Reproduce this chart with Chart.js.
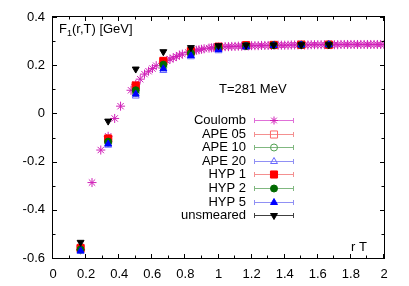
<!DOCTYPE html>
<html>
<head>
<meta charset="utf-8">
<script src="https://cdn.jsdelivr.net/npm/chart.js@4"></script>
<style>
  html, body { margin: 0; padding: 0; background: #fff; }
  canvas { display: block; }
</style>
</head>
<body>
<canvas id="myChart" width="409" height="286"></canvas>
<script>
// lattice separations rT
const rLat = [0.1667, 0.3333, 0.5, 0.6667, 0.8333, 1.0, 1.1667, 1.3333, 1.5, 1.6667]

// F1(r,T) in GeV for each smearing
const ape05 = [-0.562, -0.110, 0.110, 0.214, 0.256, 0.275, 0.282, 0.284, 0.285, 0.285]
const ape10 = [-0.568, -0.122, 0.085, 0.192, 0.245, 0.269, 0.279, 0.283, 0.284, 0.285]
const ape20 = [-0.573, -0.132, 0.072, 0.178, 0.235, 0.260, 0.274, 0.281, 0.283, 0.284]
const hyp1 = [-0.558, -0.104, 0.116, 0.218, 0.259, 0.277, 0.283, 0.284, 0.285, 0.285]
const hyp2 = [-0.565, -0.117, 0.096, 0.202, 0.250, 0.272, 0.280, 0.283, 0.284, 0.285]
const hyp5 = [-0.570, -0.127, 0.080, 0.185, 0.240, 0.265, 0.277, 0.282, 0.284, 0.285]
const unsmeared = [-0.535, -0.032, 0.184, 0.256, 0.273, 0.281, 0.283, 0.284, 0.285, 0.285]

// Coulomb gauge, all separations
const coulombR = [0.1667, 0.2357, 0.2887, 0.3333, 0.3727, 0.4082, 0.4714, 0.5, 0.527, 0.5528,
  0.5774, 0.6009, 0.6236, 0.6667, 0.6872, 0.7071, 0.7265, 0.7454, 0.7638, 0.7817,
  0.8165, 0.8333, 0.8498, 0.866, 0.882, 0.8975, 0.9129, 0.9428, 0.9574, 0.9718,
  0.986, 1.0, 1.02, 1.04, 1.06, 1.08, 1.10, 1.12, 1.14, 1.16,
  1.18, 1.20, 1.22, 1.24, 1.26, 1.28, 1.30, 1.32, 1.34, 1.36,
  1.38, 1.40, 1.42, 1.44, 1.46, 1.48, 1.50, 1.52, 1.54, 1.56,
  1.58, 1.60, 1.62, 1.64, 1.66, 1.68, 1.70, 1.72, 1.74, 1.76,
  1.78, 1.80, 1.82, 1.84, 1.86, 1.88, 1.90, 1.92, 1.94, 1.96,
  1.98, 2.00]
const coulombF = [-0.565, -0.287, -0.152, -0.095, -0.021, 0.030, 0.096, 0.120, 0.142, 0.163,
  0.175, 0.186, 0.198, 0.213, 0.219, 0.225, 0.230, 0.236, 0.242, 0.246,
  0.253, 0.256, 0.259, 0.262, 0.264, 0.266, 0.268, 0.271, 0.272, 0.273,
  0.274, 0.275, 0.276, 0.277, 0.277, 0.278, 0.278, 0.279, 0.279, 0.280,
  0.280, 0.281, 0.281, 0.281, 0.282, 0.282, 0.282, 0.282, 0.283, 0.283,
  0.283, 0.283, 0.283, 0.284, 0.284, 0.284, 0.284, 0.284, 0.284, 0.285,
  0.285, 0.285, 0.285, 0.285, 0.285, 0.285, 0.285, 0.285, 0.286, 0.286,
  0.286, 0.286, 0.286, 0.286, 0.286, 0.286, 0.286, 0.286, 0.286, 0.286,
  0.286, 0.286]

const xTicks = [0, 0.2, 0.4, 0.6, 0.8, 1, 1.2, 1.4, 1.6, 1.8, 2]
const yTicks = [-0.6, -0.4, -0.2, 0, 0.2, 0.4]

const FONT = '"Liberation Sans", Arial, Helvetica, sans-serif'

// legend order as in the plot key
const series = [
  { label: 'Coulomb', r: coulombR, f: coulombF, color: '#d020b8', line: '#e070d8', style: 'star', radius: 4.5, fill: false },
  { label: 'APE 05', r: rLat, f: ape05, color: '#ff6868', line: '#f49090', style: 'rect', radius: 5, fill: false },
  { label: 'APE 10', r: rLat, f: ape10, color: '#50a050', line: '#80b880', style: 'circle', radius: 3.5, fill: false },
  { label: 'APE 20', r: rLat, f: ape20, color: '#6868ff', line: '#9090f4', style: 'triangle', radius: 4, fill: false },
  { label: 'HYP 1', r: rLat, f: hyp1, color: '#ff0000', line: '#f49090', style: 'rect', radius: 5, fill: true },
  { label: 'HYP 2', r: rLat, f: hyp2, color: '#006a00', line: '#80b880', style: 'circle', radius: 3.5, fill: true },
  { label: 'HYP 5', r: rLat, f: hyp5, color: '#0000ff', line: '#9090f4', style: 'triangle', radius: 4, fill: true },
  { label: 'unsmeared', r: rLat, f: unsmeared, color: '#000000', line: '#404040', style: 'triangle', radius: 4, fill: true, rot: 180 }
]

// later key entries sit on top, so hand them over reversed
const datasets = series.slice().reverse().map(s => ({
  label: s.label,
  data: s.r.map((r, i) => ({ x: r, y: s.f[i] })),
  pointStyle: s.style,
  pointRadius: s.radius,
  pointRotation: s.rot || 0,
  borderColor: s.color,
  backgroundColor: s.fill ? s.color : 'rgba(0,0,0,0)',
  borderWidth: 1,
  showLine: false
}))

const frame = {
  id: 'frame',
  afterDatasetsDraw(chart) {
    const { ctx, chartArea: a, scales: { x, y } } = chart
    ctx.save()
    ctx.strokeStyle = '#000'
    ctx.lineWidth = 1
    ctx.strokeRect(a.left - 0.5, a.top - 0.5, a.right - a.left + 1, a.bottom - a.top + 1)

    ctx.beginPath()
    for (let i = 0; i <= 20; i++) {
      const px = Math.round(x.getPixelForValue(i / 10)) - 0.5
      const len = i % 2 === 0 ? 4 : 2.5
      ctx.moveTo(px, a.bottom); ctx.lineTo(px, a.bottom - len)
      ctx.moveTo(px, a.top); ctx.lineTo(px, a.top + len)
    }
    for (let i = -6; i <= 4; i++) {
      const py = Math.round(y.getPixelForValue(i / 10)) + 0.5
      const len = i % 2 === 0 ? 4 : 2.5
      ctx.moveTo(a.left, py); ctx.lineTo(a.left + len, py)
      ctx.moveTo(a.right, py); ctx.lineTo(a.right - len, py)
    }
    ctx.stroke()

    // axis captions
    ctx.fillStyle = '#000'
    ctx.textBaseline = 'alphabetic'
    ctx.textAlign = 'left'
    ctx.font = '13px ' + FONT
    let tx = 59
    const base = 33
    ctx.fillText('F', tx, base)
    tx += ctx.measureText('F').width
    ctx.font = '9px ' + FONT
    ctx.fillText('1', tx, base + 3)
    tx += ctx.measureText('1').width
    ctx.font = '13px ' + FONT
    ctx.fillText('(r,T) [GeV]', tx, base)

    ctx.fillText('T=281 MeV', 219, 93)
    ctx.textAlign = 'right'
    ctx.fillText('r T', 367, 251)

    // key
    series.forEach((s, i) => {
      const ly = 120 + i * 13.6
      ctx.fillStyle = '#000'
      ctx.textAlign = 'right'
      ctx.textBaseline = 'middle'
      ctx.font = '13px ' + FONT
      ctx.fillText(s.label, 246, ly + 0.5)
      const yy = Math.round(ly) + 0.5
      ctx.strokeStyle = s.line
      ctx.lineWidth = 1
      ctx.beginPath()
      ctx.moveTo(254, yy); ctx.lineTo(294, yy)
      ctx.moveTo(254.5, yy - 2.5); ctx.lineTo(254.5, yy + 2.5)
      ctx.moveTo(293.5, yy - 2.5); ctx.lineTo(293.5, yy + 2.5)
      ctx.stroke()
      ctx.strokeStyle = s.color
      ctx.fillStyle = s.fill ? s.color : 'rgba(0,0,0,0)'
      Chart.helpers.drawPoint(ctx, { pointStyle: s.style, radius: s.style === 'star' ? 4 : s.radius, rotation: s.rot || 0, borderWidth: 1 }, 274, yy)
    })
    ctx.restore()
  }
}

new Chart(document.getElementById('myChart'), {
  type: 'scatter',
  data: { datasets },
  options: {
    responsive: false,
    animation: false,
    devicePixelRatio: 1,
    layout: { padding: { top: 17, right: 25, left: 0, bottom: 0 } },
    plugins: { legend: { display: false }, tooltip: { enabled: false } },
    scales: {
      x: {
        type: 'linear',
        min: 0,
        max: 2,
        afterFit: s => { s.height = 28 },
        afterBuildTicks: s => { s.ticks = xTicks.map(v => ({ value: v })) },
        grid: { display: false, drawTicks: false },
        border: { display: false },
        ticks: {
          color: '#000', padding: 9, font: { family: FONT, size: 13 }, maxRotation: 0,
          callback: v => String(Number(v.toFixed(2)))
        }
      },
      y: {
        type: 'linear',
        min: -0.6,
        max: 0.4,
        afterFit: s => { s.width = 53 },
        afterBuildTicks: s => { s.ticks = yTicks.map(v => ({ value: v })) },
        grid: { display: false, drawTicks: false },
        border: { display: false },
        ticks: {
          color: '#000', padding: 8, font: { family: FONT, size: 13 },
          callback: v => String(Number(v.toFixed(2)))
        }
      }
    }
  },
  plugins: [frame]
})
</script>
</body>
</html>
